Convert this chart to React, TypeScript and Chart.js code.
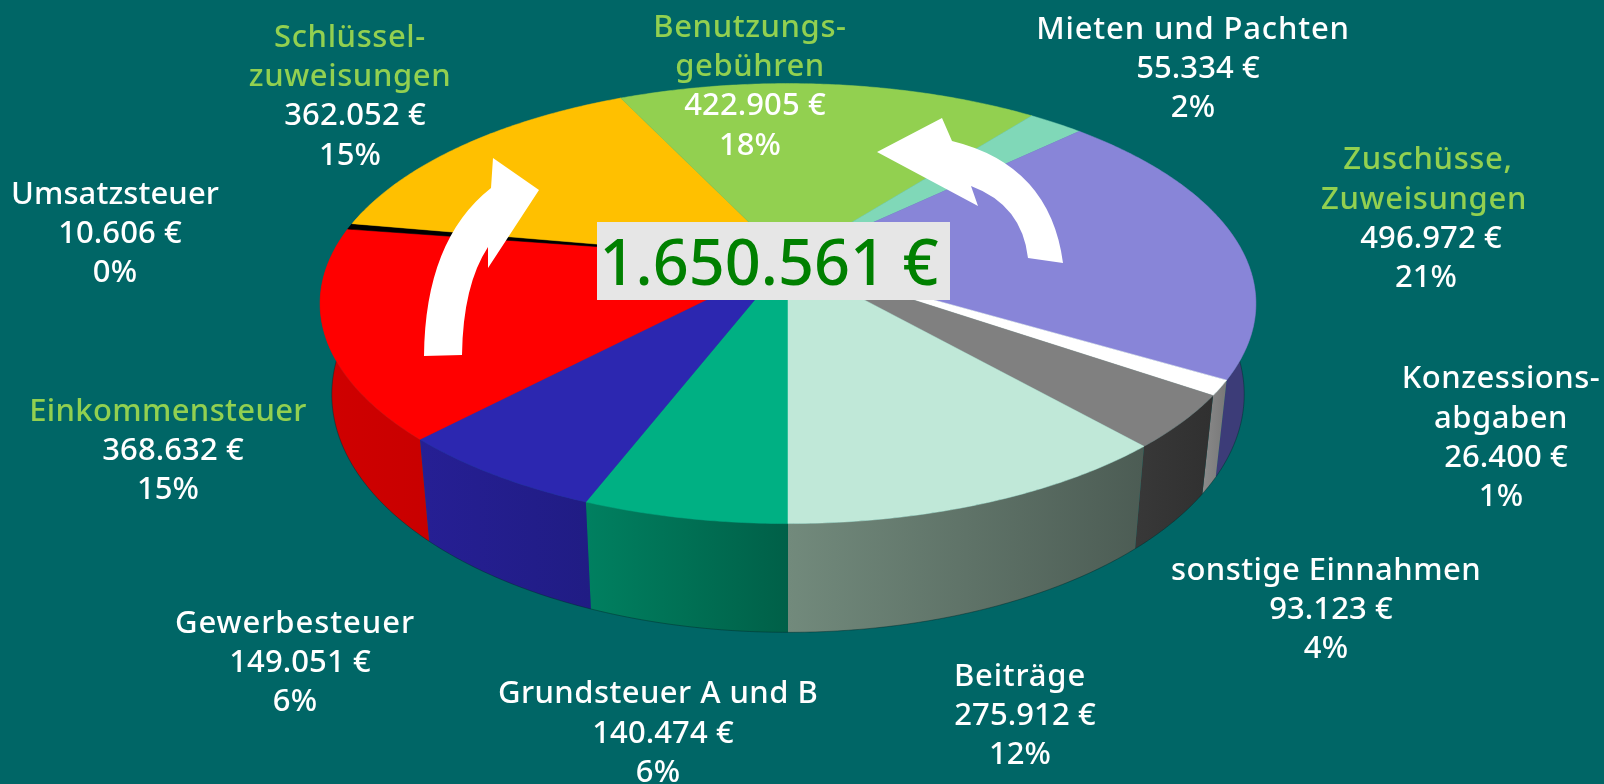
import React, { useEffect, useRef } from "react";
import { Chart, registerables } from "chart.js";

Chart.register(...registerables);

// ---- data, clockwise from the bottom of the pie ----
const categories = [
  "Grundsteuer A und B", "Gewerbesteuer", "Einkommensteuer", "Umsatzsteuer",
  "Schlüsselzuweisungen", "Benutzungsgebühren", "Mieten und Pachten",
  "Zuschüsse, Zuweisungen", "Konzessionsabgaben", "sonstige Einnahmen", "Beiträge",
];
const values = [140474, 149051, 368632, 10606, 362052, 422905, 55334, 496972, 26400, 93123, 275912];
const percents = ["6%", "6%", "15%", "0%", "15%", "18%", "2%", "21%", "1%", "4%", "12%"];
const nameLines = [
  ["Grundsteuer A und B"], ["Gewerbesteuer"], ["Einkommensteuer"], ["Umsatzsteuer"],
  ["Schlüssel-", "zuweisungen"], ["Benutzungs-", "gebühren"], ["Mieten und Pachten"],
  ["Zuschüsse,", "Zuweisungen"], ["Konzessions-", "abgaben"], ["sonstige Einnahmen"], ["Beiträge"],
];
const totalLabel = "1.650.561 €";

// ---- styles ----
const background = "#006666";
const topColors = ["#00B083", "#2C27B0", "#FF0000", "#000000", "#FFC000", "#92D050", "#80D8B8", "#8885D8", "#FFFFFF", "#808080", "#C0E8D8"];
const wallFrom = ["#008060", "#261F94", "#D00000", "#000000", "#C09000", "#6E9C3C", "#608C78", "#3C3C78", "#8A8A8A", "#383838", "#728A7C"];
const wallTo = ["#006048", "#201C84", "#C80000", "#000000", "#C09000", "#6E9C3C", "#608C78", "#3C3C78", "#787878", "#303030", "#4C5C54"];
const nameGreen = [false, false, true, false, true, true, false, true, false, false, false];
const labelCenterX = [658, 295, 168, 115, 350, 750, 1193, 1426, 1501, 1326, 1020];
const labelFirstY = [694.5, 624, 412, 195, 38, 28, 30, 160.5, 379.5, 571, 677];
const nameOffsets = [[0], [0], [0], [0], [0, 0], [0, 0], [0], [2, -2], [0, 0], [0], [0]];
const nameSpacing = [0.45, 0.95, 0.35, 0.1, 0.6, 0.6, 0.85, 0.65, 0.5, 0.45, 0.8];
const LINE_H = 39.3;
const LABEL_FONT = '500 31px "Noto Sans"';

// projection of the flat pie (as laid out by Chart.js) into perspective
const X_STRETCH = 1.764;
const Y_STRETCH = 0.813;
const TILT = 0.198;
const DEPTH = 0.3355;
const WALL_SHRINK = 0.975;

const piePerspective = {
  id: "piePerspective",
  beforeDatasetsDraw(chart: any) {
    const ctx: CanvasRenderingContext2D = chart.ctx;
    const arcs = chart.getDatasetMeta(0).data;
    const cx = arcs[0].x;
    const cy = arcs[0].y;
    const r = arcs[0].outerRadius;
    const top = (a: number) => {
      const w = 1 - TILT * Math.sin(a);
      return [cx + (r * X_STRETCH * Math.cos(a)) / w, cy + (r * Y_STRETCH * Math.sin(a)) / w];
    };
    const bottom = (a: number) => {
      const w = 1 - TILT * Math.sin(a);
      const p = top(a);
      return [cx + (p[0] - cx) * WALL_SHRINK, p[1] + (r * DEPTH) / w];
    };
    const samples = (s: number, e: number) => {
      const n = Math.max(2, Math.ceil((e - s) / 0.01));
      const out: number[] = [];
      for (let i = 0; i <= n; i++) out.push(s + ((e - s) * i) / n);
      return out;
    };

    ctx.save();
    // side walls
    arcs.forEach((arc: any, i: number) => {
      const visible = samples(arc.startAngle, arc.endAngle).filter((a) => Math.sin(a) > -0.25);
      if (visible.length < 2) return;
      const ptsTop = visible.map(top);
      const ptsBot = visible.map(bottom).reverse();
      const xs = ptsTop.concat(ptsBot).map((p) => p[0]);
      const grad = ctx.createLinearGradient(Math.min(...xs), 0, Math.max(...xs), 0);
      grad.addColorStop(0, wallFrom[i]);
      grad.addColorStop(1, wallTo[i]);
      ctx.beginPath();
      ptsTop.concat(ptsBot).forEach((p, j) => (j ? ctx.lineTo(p[0], p[1]) : ctx.moveTo(p[0], p[1])));
      ctx.closePath();
      ctx.fillStyle = grad;
      ctx.fill();
      ctx.strokeStyle = "rgba(0,40,40,0.55)";
      ctx.lineWidth = 0.8;
      ctx.beginPath();
      ptsBot.forEach((p, j) => (j ? ctx.lineTo(p[0], p[1]) : ctx.moveTo(p[0], p[1])));
      ctx.stroke();
    });
    // top faces
    arcs.forEach((arc: any) => {
      ctx.beginPath();
      ctx.moveTo(cx, cy);
      samples(arc.startAngle, arc.endAngle).forEach((a) => {
        const p = top(a);
        ctx.lineTo(p[0], p[1]);
      });
      ctx.closePath();
      ctx.fillStyle = arc.options.backgroundColor;
      ctx.fill();
      ctx.strokeStyle = arc.options.backgroundColor;
      ctx.lineWidth = 0.5;
      ctx.stroke();
    });
    ctx.restore();
    return false;
  },
  afterDraw(chart: any) {
    const ctx: CanvasRenderingContext2D = chart.ctx;
    ctx.save();
    // curved white arrows
    ctx.fillStyle = "#FFFFFF";
    ctx.beginPath();
    ctx.moveTo(424, 356);
    ctx.quadraticCurveTo(425, 240, 491, 188);
    ctx.lineTo(493, 158);
    ctx.lineTo(539, 190);
    ctx.lineTo(488, 268);
    ctx.lineTo(488, 247);
    ctx.quadraticCurveTo(463, 285, 462, 355);
    ctx.closePath();
    ctx.fill();
    ctx.beginPath();
    ctx.moveTo(1063, 263);
    ctx.quadraticCurveTo(1050, 165, 952, 141);
    ctx.lineTo(942, 118);
    ctx.lineTo(877, 152);
    ctx.lineTo(978, 206);
    ctx.lineTo(971, 186);
    ctx.quadraticCurveTo(1022, 205, 1028, 258);
    ctx.closePath();
    ctx.fill();

    // total box
    ctx.fillStyle = "#E6E6E6";
    ctx.fillRect(597, 222, 353, 78);
    ctx.fillStyle = "#008000";
    ctx.font = '500 63px "Noto Sans"';
    ctx.textAlign = "center";
    ctx.textBaseline = "alphabetic";
    ctx.fillText(totalLabel, 769, 285);

    // labels
    ctx.font = LABEL_FONT;
    ctx.textBaseline = "middle";
    const fmt = (v: number) => v.toString().replace(/\B(?=(\d{3})+$)/g, ".") + " €";
    categories.forEach((_, i) => {
      let y = labelFirstY[i];
      (ctx as any).letterSpacing = nameSpacing[i] + "px";
      nameLines[i].forEach((line, j) => {
        ctx.fillStyle = nameGreen[i] ? "#92D050" : "#FFFFFF";
        ctx.fillText(line, labelCenterX[i] + nameOffsets[i][j], y);
        y += LINE_H;
      });
      (ctx as any).letterSpacing = "0.1px";
      ctx.fillStyle = "#FFFFFF";
      ctx.fillText(fmt(values[i]), labelCenterX[i] + 5, y);
      y += LINE_H;
      ctx.fillText(percents[i], labelCenterX[i], y);
    });
    ctx.restore();
  },
};

export default function App() {
  const ref = useRef<HTMLCanvasElement>(null);
  useEffect(() => {
    const chart = new Chart(ref.current!, {
      type: "pie",
      data: {
        labels: categories,
        datasets: [{ data: values, backgroundColor: topColors, borderWidth: 0 }],
      },
      options: {
        animation: false,
        responsive: false,
        rotation: 180,
        layout: { padding: { right: 28, bottom: 264 } },
        plugins: { legend: { display: false }, tooltip: { enabled: false } },
      },
      plugins: [piePerspective],
    } as any);
    return () => chart.destroy();
  }, []);
  return (
    <div style={{ position: "fixed", left: 0, top: 0, width: 1604, height: 784, background, overflow: "hidden" }}>
      <canvas ref={ref} width={1604} height={784} style={{ display: "block" }} />
    </div>
  );
}
